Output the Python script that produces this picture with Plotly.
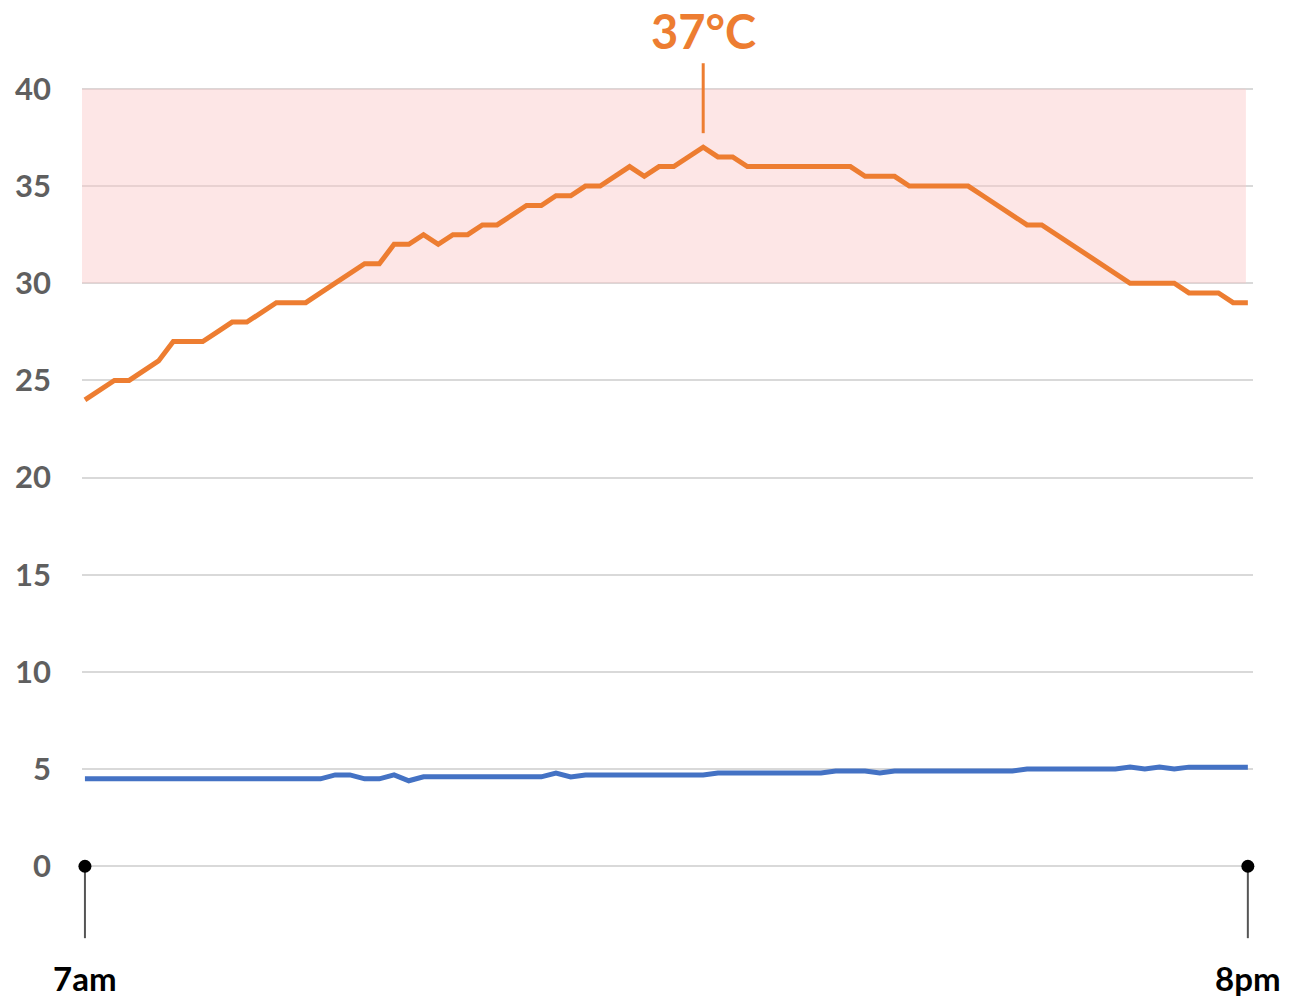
import plotly.graph_objects as go

# ---- data ----
temperature = [24, 24.5, 25, 25, 25.5, 26, 27, 27, 27, 27.5,
               28, 28, 28.5, 29, 29, 29, 29.5, 30, 30.5, 31,
               31, 32, 32, 32.5, 32, 32.5, 32.5, 33, 33, 33.5,
               34, 34, 34.5, 34.5, 35, 35, 35.5, 36, 35.5, 36,
               36, 36.5, 37, 36.5, 36.5, 36, 36, 36, 36, 36,
               36, 36, 36, 35.5, 35.5, 35.5, 35, 35, 35, 35,
               35, 34.5, 34, 33.5, 33, 33, 32.5, 32, 31.5, 31,
               30.5, 30, 30, 30, 30, 29.5, 29.5, 29.5, 29, 29]
second_series = [4.5] * 17 + [4.7, 4.7, 4.5, 4.5, 4.7, 4.4, 4.6,
                 4.6, 4.6, 4.6, 4.6, 4.6, 4.6, 4.6, 4.6, 4.8, 4.6,
                 4.7, 4.7, 4.7, 4.7, 4.7, 4.7, 4.7, 4.7, 4.7,
                 4.8, 4.8, 4.8, 4.8, 4.8, 4.8, 4.8, 4.8,
                 4.9, 4.9, 4.9, 4.8,
                 4.9, 4.9, 4.9, 4.9, 4.9, 4.9, 4.9, 4.9, 4.9,
                 5.0, 5.0, 5.0, 5.0, 5.0, 5.0, 5.0,
                 5.1, 5.0, 5.1, 5.0, 5.1, 5.1, 5.1, 5.1, 5.1]
steps = list(range(len(temperature)))
y_ticks = [0, 5, 10, 15, 20, 25, 30, 35, 40]
end_labels = ["7am", "8pm"]
hot_band = [30, 40]

ORANGE = "#ED7D31"
BLUE = "#4472C4"
FONT = "Lato, Roboto, sans-serif"

fig = go.Figure()

first_x, last_x = steps[0], steps[-1]

# vertical stems under the end dots
for xv in (first_x, last_x):
    fig.add_trace(go.Scatter(x=[xv, xv], y=[0, -3.7], mode="lines",
                             line=dict(color="#555555", width=2),
                             hoverinfo="skip", showlegend=False, cliponaxis=False))

fig.add_trace(go.Scatter(x=steps, y=second_series, mode="lines",
                         line=dict(color=BLUE, width=5),
                         showlegend=False, cliponaxis=False))
fig.add_trace(go.Scatter(x=steps, y=temperature, mode="lines",
                         line=dict(color=ORANGE, width=5),
                         showlegend=False, cliponaxis=False))

fig.add_trace(go.Scatter(x=[first_x, last_x], y=[0, 0], mode="markers",
                         marker=dict(color="black", size=13),
                         showlegend=False, cliponaxis=False))

# shaded hot band
fig.add_shape(type="rect", xref="x", yref="y", x0=-0.2, x1=78.87,
              y0=hot_band[0], y1=hot_band[1],
              fillcolor="rgba(250,200,200,0.45)", line_width=0, layer="between")

# plot geometry helpers (paper coordinates for text outside the axes)
Y_MIN, Y_MAX = -4, 42


def y_paper(v):
    return (v - Y_MIN) / (Y_MAX - Y_MIN)


# peak callout
peak = max(temperature)
peak_i = temperature.index(peak)
fig.add_shape(type="line", xref="x", yref="y", x0=peak_i, x1=peak_i,
              y0=peak + 0.72, y1=peak + 4.32,
              line=dict(color=ORANGE, width=3))
fig.add_annotation(x=peak_i, y=y_paper(peak + 6.0), xref="x", yref="paper",
                   text=f"{peak:.0f}°C", showarrow=False,
                   font=dict(family=FONT, size=47, color=ORANGE, weight="bold"),
                   xanchor="center", yanchor="middle")

for xv, lab in zip((first_x, last_x), end_labels):
    fig.add_annotation(x=xv, y=y_paper(-5.75), xref="x", yref="paper", text=lab,
                       showarrow=False,
                       font=dict(family=FONT, size=33, color="black", weight="bold"),
                       xanchor="center", yanchor="middle")

fig.update_layout(
    width=1291, height=997,
    margin=dict(l=74, r=46, t=42, b=61),
    plot_bgcolor="white", paper_bgcolor="white",
    showlegend=False,
)
fig.update_xaxes(range=[-0.2, 79.35], showgrid=False, zeroline=False,
                 showticklabels=False, showline=False, ticks="", automargin=False)
fig.update_yaxes(range=[Y_MIN, Y_MAX], tickvals=y_ticks, showgrid=True,
                 gridcolor="#d9d9d9", gridwidth=1.5, zeroline=False,
                 showline=False, ticks="", ticklabelstandoff=30, automargin=False,
                 tickfont=dict(family=FONT, size=31, color="#5f5f5f", weight="bold"))

fig.write_html("out.html")
